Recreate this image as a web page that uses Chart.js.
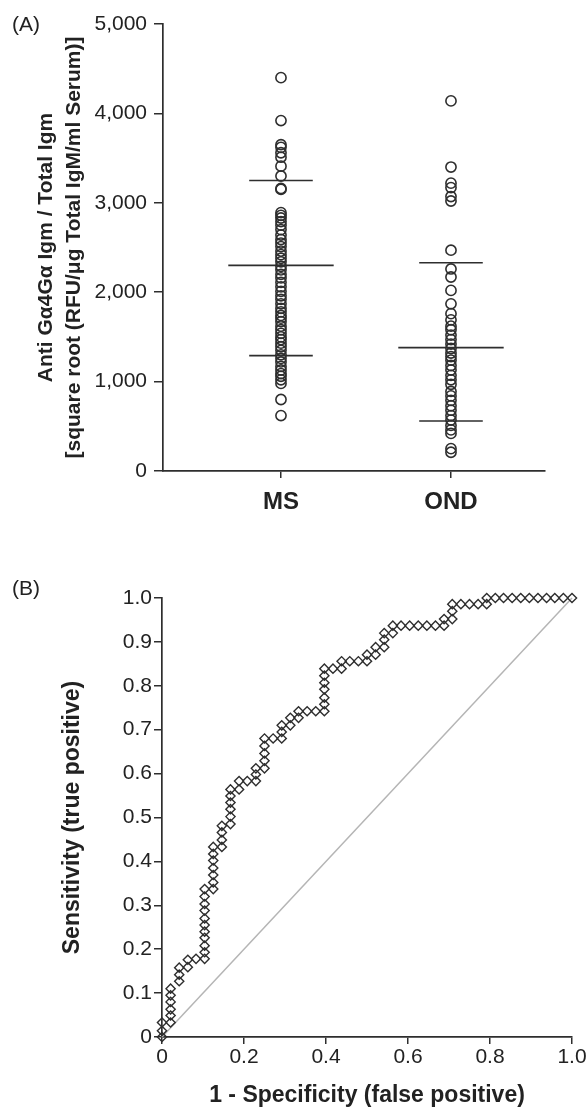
<!DOCTYPE html>
<html lang="en">
<head>
  <meta charset="UTF-8">
  <title>Anti-Gα4Gα IgM – MS vs OND</title>
  <script src="https://cdn.jsdelivr.net/npm/chart.js"></script>
  <style>
    body {
      margin: 0;
      background: #ffffff;
      font-family: 'Liberation Sans', Arial, Helvetica, sans-serif;
    }
    .page {
      position: relative;
      width: 586px;
      height: 1109px;
      overflow: hidden;
    }
    .panel {
      position: absolute;
      left: 0;
    }
    .panel-tag {
      position: absolute;
      left: 12px;
      font-size: 21px;
      line-height: 21px;
      color: #222;
      z-index: 2;
    }
  </style>
</head>
<body>
  <div class="page">
    <div class="panel-tag" style="top: 13px;">(A)</div>
    <div class="panel" style="top: 0;">
      <canvas id="dotChart" width="586" height="540"></canvas>
    </div>
    <div class="panel-tag" style="top: 577px;">(B)</div>
    <div class="panel" style="top: 560px;">
      <canvas id="rocChart" width="586" height="549"></canvas>
    </div>
  </div>

  <script>
    // ---- Panel A: antibody level per patient group ----
    const groups = ['MS', 'OND'];
    const msValues = [4400, 3920, 3650, 3620, 3560, 3510, 3410, 3300, 3160, 3150,
      2890, 2860, 2830, 2790, 2750, 2700, 2640, 2590, 2550, 2510, 2460, 2420,
      2380, 2340, 2290, 2250, 2200, 2160, 2110, 2060, 2010, 1960, 1920, 1870,
      1820, 1780, 1740, 1710, 1670, 1620, 1580, 1540, 1500, 1470, 1430, 1390,
      1350, 1300, 1260, 1220, 1170, 1130, 1090, 1060, 1020, 980, 800, 620];
    const ondValues = [4140, 3400, 3220, 3170, 3070, 3020, 2470, 2260, 2170, 2020,
      1870, 1760, 1690, 1620, 1580, 1520, 1470, 1420, 1370, 1320, 1280, 1240,
      1180, 1130, 1070, 1020, 970, 890, 840, 790, 730, 680, 620, 570, 510, 460,
      420, 250, 210];
    const groupMean = [2300, 1380];
    const groupUpper = [3250, 2330];
    const groupLower = [1290, 560];
    const levelTicks = [0, 1000, 2000, 3000, 4000, 5000];

    // ---- Panel B: ROC curve ----
    const rocFpr = [0, 0, 0,
      0.021, 0.021, 0.021, 0.021, 0.021, 0.021,
      0.042, 0.042, 0.042,
      0.063, 0.063,
      0.083,
      0.104, 0.104, 0.104, 0.104, 0.104, 0.104, 0.104, 0.104, 0.104, 0.104, 0.104,
      0.125, 0.125, 0.125, 0.125, 0.125, 0.125, 0.125,
      0.146, 0.146, 0.146, 0.146,
      0.167, 0.167, 0.167, 0.167, 0.167, 0.167,
      0.188, 0.188,
      0.208,
      0.229, 0.229, 0.229,
      0.25, 0.25, 0.25, 0.25, 0.25,
      0.271,
      0.292, 0.292, 0.292,
      0.313, 0.313,
      0.333, 0.333,
      0.354,
      0.375,
      0.396, 0.396, 0.396, 0.396, 0.396, 0.396, 0.396,
      0.417,
      0.438, 0.438,
      0.458,
      0.479,
      0.5, 0.5,
      0.521, 0.521,
      0.542, 0.542, 0.542,
      0.563, 0.563,
      0.583, 0.604, 0.625, 0.646, 0.667,
      0.688, 0.688,
      0.708, 0.708, 0.708,
      0.729, 0.75, 0.771,
      0.792, 0.792,
      0.813, 0.833, 0.854, 0.875, 0.896, 0.917, 0.938, 0.958, 0.979, 1.0];
    const rocTpr = [0, 0.014, 0.033,
      0.033, 0.049, 0.063, 0.080, 0.095, 0.110,
      0.127, 0.142, 0.158,
      0.159, 0.176,
      0.178,
      0.178, 0.193, 0.208, 0.226, 0.240, 0.255, 0.270, 0.288, 0.303, 0.320, 0.337,
      0.337, 0.352, 0.369, 0.385, 0.402, 0.417, 0.433,
      0.433, 0.449, 0.466, 0.481,
      0.485, 0.502, 0.519, 0.534, 0.549, 0.564,
      0.564, 0.583,
      0.583,
      0.583, 0.598, 0.612,
      0.612, 0.629, 0.646, 0.663, 0.680,
      0.680,
      0.680, 0.695, 0.710,
      0.710, 0.727,
      0.727, 0.742,
      0.742,
      0.742,
      0.742, 0.758, 0.773, 0.792, 0.807, 0.823, 0.839,
      0.839,
      0.839, 0.856,
      0.856,
      0.856,
      0.856, 0.871,
      0.871, 0.888,
      0.888, 0.905, 0.920,
      0.920, 0.937,
      0.937, 0.937, 0.937, 0.937, 0.937,
      0.937, 0.952,
      0.952, 0.970, 0.986,
      0.986, 0.986, 0.986,
      0.986, 1.0,
      1.0, 1.0, 1.0, 1.0, 1.0, 1.0, 1.0, 1.0, 1.0, 1.0];
    const fprTicks = [0, 0.2, 0.4, 0.6, 0.8, 1.0];
    const tprTicks = [0, 0.1, 0.2, 0.3, 0.4, 0.5, 0.6, 0.7, 0.8, 0.9, 1.0];

    const ink = '#2e2e2e';
    const fontFamily = "'Liberation Sans', Arial, Helvetica, sans-serif";
    const MEAN_HALF = 0.31;   // half length of the mean bar, in group units
    const SPREAD_HALF = 0.187; // half length of the spread bars

    function fixedTicks(values) {
      return axis => { axis.ticks = values.map(v => ({ value: v })); };
    }

    function hBar(centre, half, y) {
      return {
        type: 'line',
        data: [{ x: centre - half, y: y }, { x: centre + half, y: y }],
        borderColor: ink,
        borderWidth: 1.6,
        pointRadius: 0,
        showLine: true,
        clip: false
      };
    }

    // dot plot
    const dotSets = [msValues, ondValues].map((vals, i) => ({
      data: vals.map(v => ({ x: i + 1, y: v })),
      pointStyle: 'circle',
      pointRadius: 5.1,
      pointBorderWidth: 1.6,
      pointBorderColor: ink,
      pointBackgroundColor: 'rgba(0,0,0,0)',
      clip: false
    }));
    const barSets = [];
    groups.forEach((g, i) => {
      barSets.push(hBar(i + 1, MEAN_HALF, groupMean[i]));
      barSets.push(hBar(i + 1, SPREAD_HALF, groupUpper[i]));
      barSets.push(hBar(i + 1, SPREAD_HALF, groupLower[i]));
    });

    new Chart(document.getElementById('dotChart'), {
      type: 'scatter',
      data: { datasets: dotSets.concat(barSets) },
      options: {
        responsive: false,
        animation: false,
        layout: { padding: { left: 12, top: 24, right: 41, bottom: 0 } },
        plugins: { legend: { display: false }, tooltip: { enabled: false } },
        scales: {
          x: {
            type: 'linear',
            min: 0.306,
            max: 2.553,
            afterBuildTicks: fixedTicks([1, 2]),
            afterFit: s => { s.height = 69; s.paddingLeft = 0; s.paddingRight = 0; },
            ticks: {
              callback: v => groups[Math.round(v) - 1],
              color: '#222',
              padding: 10,
              font: { family: fontFamily, size: 24, weight: 'bold' }
            },
            grid: { drawOnChartArea: false, drawTicks: true, tickLength: 7, color: ink, lineWidth: 1.5 },
            border: { color: ink, width: 1.7 }
          },
          y: {
            min: 0,
            max: 5000,
            afterBuildTicks: fixedTicks(levelTicks),
            afterFit: s => { s.width = 151; },
            ticks: {
              callback: v => v.toLocaleString('en-US'),
              color: '#222',
              padding: 7,
              font: { family: fontFamily, size: 21 }
            },
            grid: { drawOnChartArea: false, drawTicks: true, tickLength: 9, color: ink, lineWidth: 1.5 },
            border: { color: ink, width: 1.7 },
            title: {
              display: true,
              text: ['Anti Gα4Gα Igm / Total Igm', '[square root (RFU/μg Total IgM/ml Serum)]'],
              color: '#222',
              padding: { top: 21, bottom: 0 },
              font: { family: fontFamily, size: 21, weight: 'bold', lineHeight: 1.3 }
            }
          }
        }
      }
    });

    // ROC curve
    const rocPoints = rocFpr.map((f, i) => ({ x: f, y: rocTpr[i] }));

    new Chart(document.getElementById('rocChart'), {
      type: 'scatter',
      data: {
        datasets: [
          {
            data: rocPoints,
            pointStyle: 'rectRot',
            pointRadius: 4.6,
            pointBorderWidth: 1.4,
            pointBorderColor: ink,
            pointBackgroundColor: 'rgba(0,0,0,0)',
            clip: false
          },
          {
            type: 'line',
            data: [{ x: 0, y: 0 }, { x: 1, y: 1 }],
            borderColor: '#b5b5b5',
            borderWidth: 1.5,
            pointRadius: 0,
            clip: false
          }
        ]
      },
      options: {
        responsive: false,
        animation: false,
        layout: { padding: { left: 12, top: 38, right: 14, bottom: 0 } },
        plugins: { legend: { display: false }, tooltip: { enabled: false } },
        scales: {
          x: {
            type: 'linear',
            min: 0,
            max: 1,
            afterBuildTicks: fixedTicks(fprTicks),
            afterFit: s => { s.height = 72; s.paddingLeft = 0; s.paddingRight = 0; },
            ticks: {
              callback: v => (v === 0 ? '0' : v.toFixed(1)),
              color: '#222',
              padding: 1,
              maxRotation: 0,
              font: { family: fontFamily, size: 21 }
            },
            grid: { drawOnChartArea: false, drawTicks: true, tickLength: 7, color: ink, lineWidth: 1.5 },
            border: { color: ink, width: 1.7 },
            title: {
              display: true,
              text: '1 - Specificity (false positive)',
              color: '#222',
              padding: { top: 0, bottom: 0 },
              font: { family: fontFamily, size: 23, weight: 'bold' }
            }
          },
          y: {
            min: 0,
            max: 1,
            afterBuildTicks: fixedTicks(tprTicks),
            afterFit: s => { s.width = 150; },
            ticks: {
              callback: v => (v === 0 ? '0' : v.toFixed(1)),
              color: '#222',
              padding: 2,
              font: { family: fontFamily, size: 21 }
            },
            grid: { drawOnChartArea: false, drawTicks: true, tickLength: 8, color: ink, lineWidth: 1.5 },
            border: { color: ink, width: 1.7 },
            title: {
              display: true,
              text: 'Sensitivity (true positive)',
              color: '#222',
              padding: { top: 47, bottom: 0 },
              font: { family: fontFamily, size: 23, weight: 'bold' }
            }
          }
        }
      }
    });
  </script>
</body>
</html>
